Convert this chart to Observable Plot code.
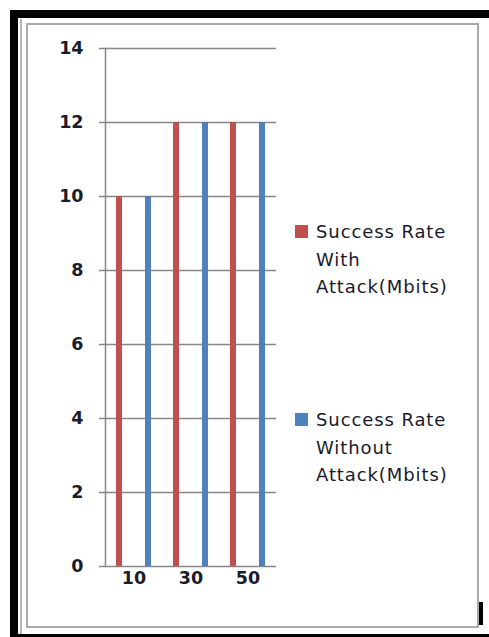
<!DOCTYPE html>
<html>
<head>
<meta charset="utf-8">
<script src="https://cdn.jsdelivr.net/npm/d3@7"></script>
<script src="https://cdn.jsdelivr.net/npm/@observablehq/plot@0.6"></script>
<style>
  html, body { margin: 0; padding: 0; background: #fff; }
  #page { position: relative; width: 489px; height: 637px; overflow: hidden; }
  .blk { position: absolute; background: #000; }
  .gry { position: absolute; background: #b4b4b4; }
  #inner { position: absolute; left: 26px; top: 23px; width: 453px; height: 605px; box-sizing: border-box; border: 2px solid #a9a9a9; }
  #chart { position: absolute; left: 0; top: 0; }
  #chart svg text { font-weight: 700; }
  #legend { position: absolute; left: 295px; top: 0; font-family: "DejaVu Sans", sans-serif; font-size: 18px; color: #1a1a2a; }
  .item { position: absolute; left: 0; display: flex; align-items: flex-start; }
  .sw { width: 13px; height: 13px; margin-top: 7px; flex: none; }
  .txt { margin-left: 8px; line-height: 27.5px; white-space: nowrap; letter-spacing: 0.9px; }
</style>
</head>
<body>
<div id="page">
  <div class="gry" style="left:20px; top:19px; width:2px; height:618px;"></div>
  <div id="inner"></div>
  <div class="blk" style="left:10px; top:10px; width:479px; height:8px;"></div>
  <div class="blk" style="left:10px; top:10px; width:8px; height:627px;"></div>
  <div class="blk" style="left:10px; top:634px; width:479px; height:3px;"></div>
  <div class="blk" style="left:479px; top:602px; width:4px; height:23px;"></div>
  <div id="chart"></div>
  <div id="legend"></div>
</div>
<script>
// ---- data ----
const categories = [10, 30, 50];
const seriesNames = ["Success Rate With Attack(Mbits)", "Success Rate Without Attack(Mbits)"];
const legendLines = [["Success Rate", "With", "Attack(Mbits)"], ["Success Rate", "Without", "Attack(Mbits)"]];
const withAttack = [10, 12, 12];
const withoutAttack = [10, 12, 12];
const yTicks = [0, 2, 4, 6, 8, 10, 12, 14];
const seriesColors = ["#C0504D", "#4F81BD"];

const rows = [];
categories.forEach((c, i) => {
  rows.push({cat: c, series: seriesNames[0], value: withAttack[i]});
  rows.push({cat: c, series: seriesNames[1], value: withoutAttack[i]});
});

const gridColor = "#878787";

const chart = Plot.plot({
  width: 290,
  height: 600,
  marginTop: 48,
  marginBottom: 34,
  marginLeft: 104,
  marginRight: 13,
  style: {background: "none", fontFamily: "DejaVu Sans", fontSize: "17.5px", color: "#1b1b2b", overflow: "visible"},
  fx: {domain: categories, padding: 0, label: null},
  x: {domain: seriesNames, paddingInner: 0.8, paddingOuter: 0.36, axis: null},
  y: {domain: [0, 14], label: null},
  color: {domain: seriesNames, range: seriesColors},
  marks: [
    Plot.gridY(yTicks, {stroke: gridColor, strokeOpacity: 1, strokeWidth: 1.5}),
    Plot.barY(rows, {fx: "cat", x: "series", y: "value", fill: "series"}),
    Plot.frame({anchor: "left", facetAnchor: "left", stroke: gridColor, strokeWidth: 1.5}),
    Plot.axisY(yTicks, {tickSize: 6, tickPadding: 16, stroke: gridColor, strokeWidth: 1.5, label: null}),
    Plot.axisFx({anchor: "bottom", tickSize: 0, tickPadding: 5, label: null})
  ]
});
document.getElementById("chart").appendChild(chart);

// ---- legend ----
const legend = document.getElementById("legend");
const itemTops = [218, 406];
seriesNames.forEach((s, i) => {
  const item = document.createElement("div");
  item.className = "item";
  item.style.top = itemTops[i] + "px";
  const sw = document.createElement("div");
  sw.className = "sw";
  sw.style.background = seriesColors[i];
  const txt = document.createElement("div");
  txt.className = "txt";
  txt.innerHTML = legendLines[i].join("<br>");
  item.appendChild(sw);
  item.appendChild(txt);
  legend.appendChild(item);
});
</script>
</body>
</html>
